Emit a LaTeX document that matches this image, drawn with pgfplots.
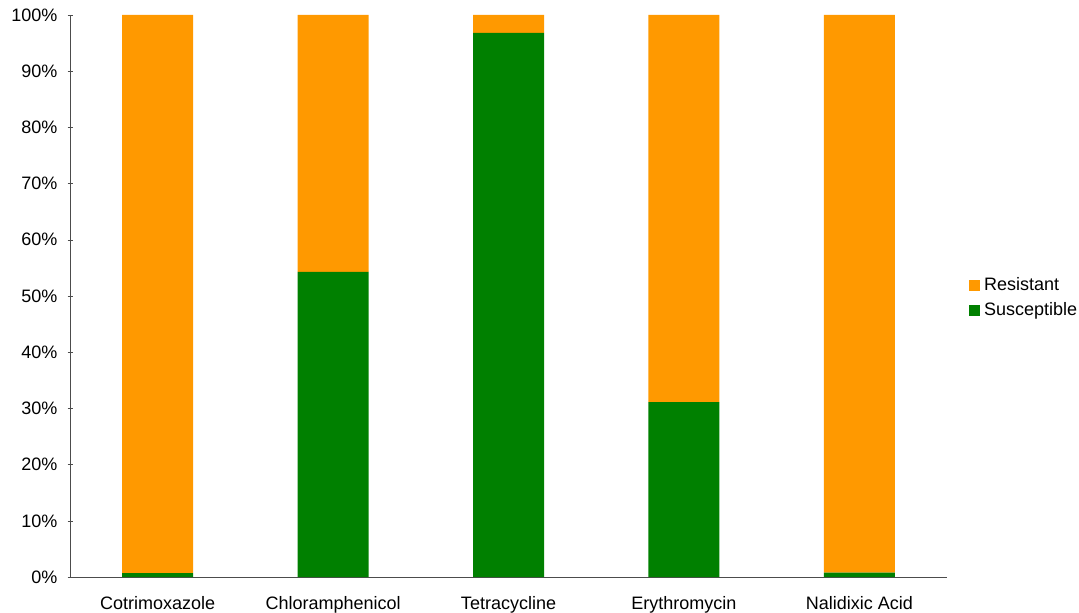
\documentclass[border=0pt]{standalone}
\usepackage{fontspec}
\setmainfont{Liberation Sans}
\usepackage{pgfplots}
\pgfplotsset{compat=1.18}
\definecolor{resist}{HTML}{FF9900}
\definecolor{suscep}{HTML}{008000}
\begin{document}
\begin{tikzpicture}
% fixed page frame: 1 px of the reference = 0.5 pt
\path[use as bounding box] (-35pt,-17.5pt) rectangle (504.5pt,288.5pt);
\begin{axis}[
    at={(0,0)}, anchor=south west,
    scale only axis,
    width=438.5pt, height=281pt,
    font=\fontsize{9}{11}\selectfont,
    ybar stacked,
    bar width=35.5pt,
    xmin=-0.5, xmax=4.5,
    ymin=0, ymax=100,
    xtick={0,1,2,3,4},
    xticklabels={Cotrimoxazole, Chloramphenicol, Tetracycline, Erythromycin, Nalidixic Acid},
    extra x ticks={-0.5,0.5,1.5,2.5,3.5,4.5},
    extra x tick labels={},
    extra x tick style={major tick length=2.5pt, tick style={black!70}},
    x tick style={draw=none},
    xticklabel style={yshift=-5pt},
    ytick={0,10,...,100},
    yticklabel={\pgfmathprintnumber{\tick}\%},
    yticklabel style={xshift=-1.5pt},
    /pgf/number format/assume math mode=true,
    y tick style={black!70},
    major tick length=2.5pt,
    tick align=outside,
    axis lines=left,
    axis line style={-, black!70},
    legend style={at={(1.018,0.497)}, anchor=west, draw=none, fill=none,
        font=\fontsize{9}{11}\selectfont, row sep=0.5pt},
    legend cell align=left,
    reverse legend,
    legend image code/.code={\fill[#1] (0pt,-2.75pt) rectangle (5.5pt,2.75pt);},
]
\addplot[fill=suscep, draw=none] coordinates {(0,0.7) (1,54.3) (2,96.8) (3,31.1) (4,0.8)};
\addplot[fill=resist, draw=none] coordinates {(0,99.3) (1,45.7) (2,3.2) (3,68.9) (4,99.2)};
\legend{Susceptible, Resistant}
\end{axis}
\end{tikzpicture}
\end{document}
